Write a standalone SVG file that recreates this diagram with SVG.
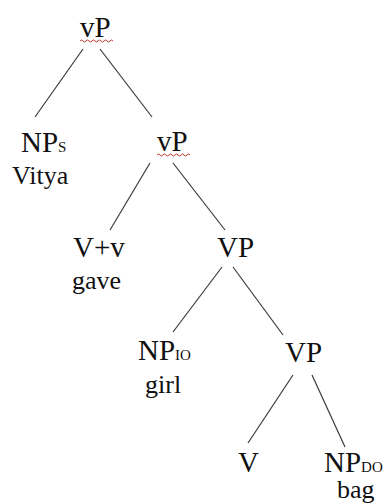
<svg xmlns="http://www.w3.org/2000/svg" width="385" height="504" viewBox="0 0 385 504">
  <style>
    .lbl { font-family: "Liberation Serif", "Times New Roman", serif; font-size: 29px; fill: #111; }
    .word { font-family: "Liberation Serif", "Times New Roman", serif; font-size: 26px; fill: #111; }
    .sub { font-size: 15px; }
    .edge { stroke: #3a3a3a; stroke-width: 1.2; fill: none; }
    .squig { stroke: #c0392b; stroke-width: 1; fill: none; }
  </style>
  <rect width="385" height="504" fill="#fff"/>

  <!-- tree branches -->
  <g id="connectors">
    <line class="edge" x1="83" y1="49" x2="35" y2="117"/>
    <line class="edge" x1="100" y1="49" x2="152" y2="117"/>
    <line class="edge" x1="150" y1="163" x2="110" y2="230"/>
    <line class="edge" x1="173" y1="163" x2="225" y2="230"/>
    <line class="edge" x1="222" y1="267" x2="173" y2="332"/>
    <line class="edge" x1="233" y1="267" x2="283" y2="335"/>
    <line class="edge" x1="293" y1="375" x2="248" y2="443"/>
    <line class="edge" x1="312" y1="375" x2="345" y2="447"/>
  </g>

  <g id="vP-root">
    <text class="lbl" x="80" y="37">vP</text>
    <path class="squig" d="M80 41 q1.5 -2 3 0 t3 0 t3 0 t3 0 t3 0 t3 0 t3 0 t3 0 t3 0 t3 0 t3 0"/>
  </g>
  <g id="NPs">
    <text class="lbl" x="21" y="152">NP<tspan class="sub">S</tspan></text>
    <text class="word" x="12" y="184">Vitya</text>
  </g>
  <g id="vP-inner">
    <text class="lbl" x="157" y="151">vP</text>
    <path class="squig" d="M157 155 q1.5 -2 3 0 t3 0 t3 0 t3 0 t3 0 t3 0 t3 0 t3 0 t3 0 t3 0 t3 0"/>
  </g>
  <g id="V-v">
    <text class="lbl" x="73" y="257">V+v</text>
    <text class="word" x="72" y="289">gave</text>
  </g>
  <g id="VP-upper">
    <text class="lbl" x="217" y="257">VP</text>
  </g>
  <g id="NPio">
    <text class="lbl" x="138" y="360">NP<tspan class="sub">IO</tspan></text>
    <text class="word" x="145" y="393">girl</text>
  </g>
  <g id="VP-lower">
    <text class="lbl" x="285" y="362">VP</text>
  </g>
  <g id="V">
    <text class="lbl" x="238" y="472">V</text>
  </g>
  <g id="NPdo">
    <text class="lbl" x="324" y="472">NP<tspan class="sub">DO</tspan></text>
    <text class="word" x="337" y="498">bag</text>
  </g>
</svg>
